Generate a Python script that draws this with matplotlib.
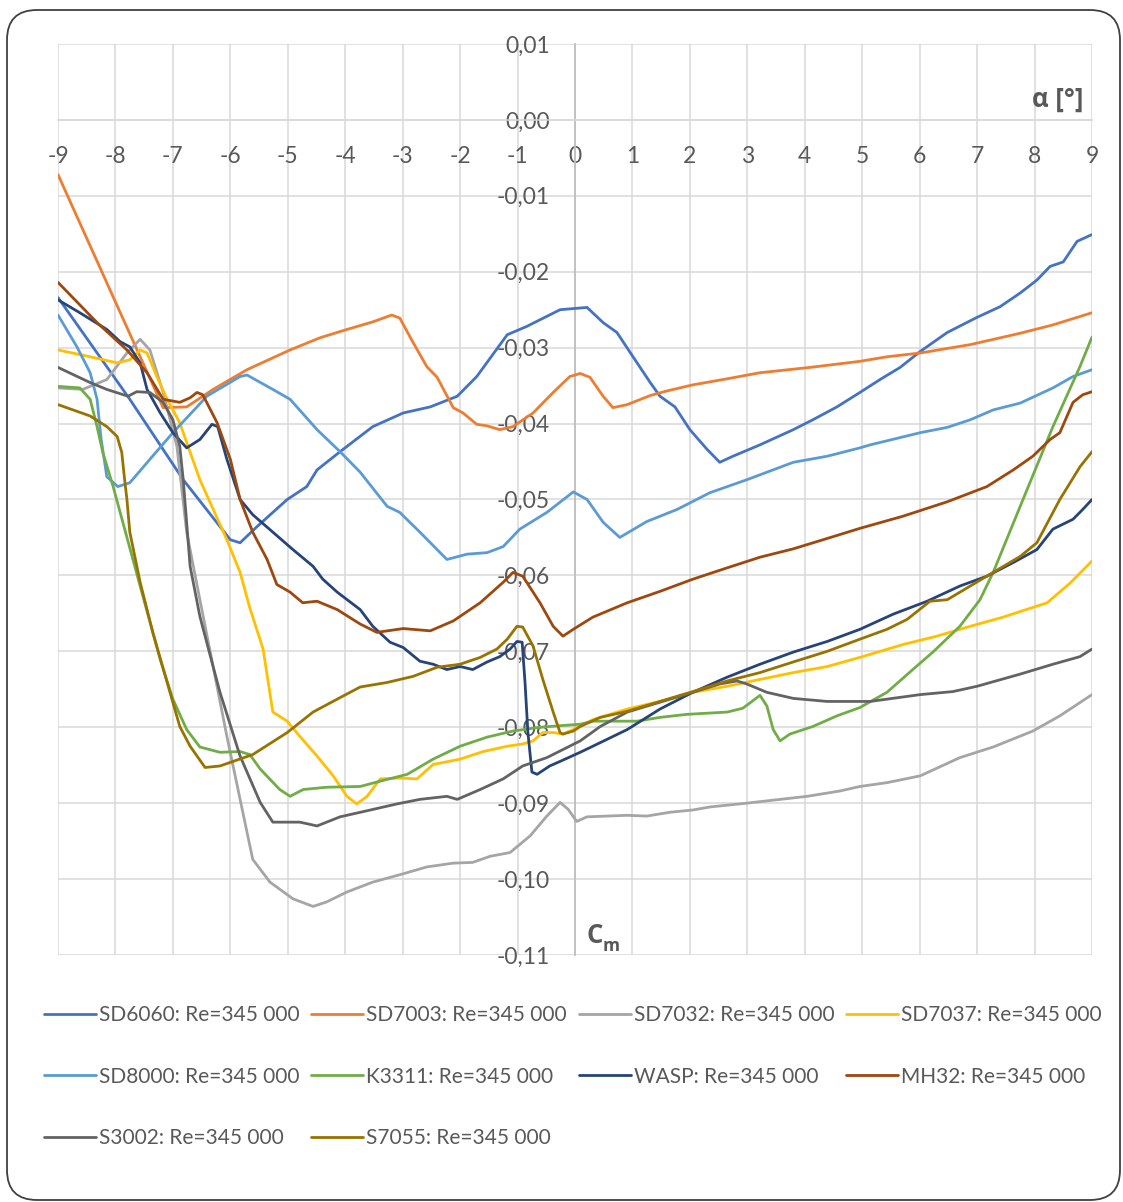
import matplotlib
matplotlib.use("Agg")
import matplotlib.pyplot as plt
from matplotlib.patches import FancyBboxPatch
from matplotlib.transforms import IdentityTransform
from matplotlib.ticker import FuncFormatter, MultipleLocator

plt.rcParams['font.family'] = ['Lato', 'DejaVu Sans']

# Moment coefficient Cm versus angle of attack, Re = 345 000
sd6060_a = [-9, -7.75, -6.82, -6.0, -5.83, -5.54, -5.01, -4.67, -4.49, -4.09, -3.52, -2.99, -2.52, -2.05, -1.71,
            -1.18, -0.84, -0.26, 0.21, 0.49, 0.73, 1.01, 1.31, 1.48, 1.74, 2.0, 2.30, 2.52, 2.75, 3.22, 3.80, 4.14,
            4.56, 4.96, 5.31, 5.66, 6.01, 6.48, 7.0, 7.40, 7.75, 8.04, 8.27, 8.50, 8.74, 9.0]
sd6060_cm = [-0.0234, -0.0368, -0.0474, -0.0553, -0.0557, -0.0536, -0.0500, -0.0483, -0.0461, -0.0437, -0.0404,
             -0.0386, -0.0378, -0.0364, -0.0338, -0.0283, -0.0272, -0.0250, -0.0247, -0.0267, -0.0280, -0.0312,
             -0.0346, -0.0364, -0.0378, -0.0408, -0.0434, -0.0451, -0.0443, -0.0428, -0.0408, -0.0395, -0.0378,
             -0.0359, -0.0342, -0.0326, -0.0305, -0.0280, -0.0260, -0.0246, -0.0228, -0.0211, -0.0193, -0.0187,
             -0.0160, -0.0151]

sd7003_a = [-9, -7.17, -6.76, -6.30, -5.71, -4.96, -4.44, -3.97, -3.52, -3.19, -3.05, -2.82, -2.58, -2.40, -2.12,
            -1.95, -1.71, -1.53, -1.31, -1.08, -0.73, -0.38, -0.09, 0.09, 0.26, 0.49, 0.66, 0.91, 1.31, 1.60, 2.05,
            2.65, 3.22, 4.09, 4.96, 5.43, 6.01, 6.88, 7.75, 8.32, 9.0]
sd7003_cm = [-0.0072, -0.0379, -0.0378, -0.0355, -0.0329, -0.0303, -0.0287, -0.0276, -0.0266, -0.0257, -0.0261,
             -0.0293, -0.0325, -0.0339, -0.0379, -0.0386, -0.0401, -0.0403, -0.0408, -0.0404, -0.0386, -0.0359,
             -0.0338, -0.0334, -0.0339, -0.0364, -0.0379, -0.0375, -0.0363, -0.0357, -0.0349, -0.0341, -0.0333,
             -0.0326, -0.0318, -0.0312, -0.0307, -0.0296, -0.0281, -0.0270, -0.0254]

sd7032_a = [-9, -8.57, -8.15, -7.80, -7.57, -7.40, -7.17, -6.93, -6.76, -6.53, -6.30, -6.06, -5.83, -5.61, -5.31,
            -4.91, -4.56, -4.32, -3.97, -3.52, -2.99, -2.58, -2.12, -1.78, -1.48, -1.13, -0.78, -0.49, -0.26, -0.12,
            0.03, 0.21, 0.91, 1.25, 1.65, 2.05, 2.35, 2.99, 3.34, 4.04, 4.61, 4.96, 5.43, 6.01, 6.70, 7.28, 7.97,
            8.44, 9.0]
sd7032_cm = [-0.0353, -0.0355, -0.0342, -0.0307, -0.0289, -0.0303, -0.0359, -0.0430, -0.0543, -0.0632, -0.0720,
             -0.0812, -0.0895, -0.0974, -0.1004, -0.1026, -0.1036, -0.1030, -0.1017, -0.1004, -0.0993, -0.0984,
             -0.0979, -0.0978, -0.0970, -0.0965, -0.0943, -0.0917, -0.0899, -0.0908, -0.0924, -0.0918, -0.0916,
             -0.0917, -0.0912, -0.0909, -0.0905, -0.0900, -0.0897, -0.0891, -0.0884, -0.0878, -0.0873, -0.0864,
             -0.0840, -0.0826, -0.0805, -0.0785, -0.0757]

sd7037_a = [-9, -8.44, -7.97, -7.75, -7.57, -7.45, -7.28, -7.10, -6.88, -6.53, -6.06, -5.83, -5.66, -5.43, -5.26,
            -5.01, -4.79, -4.49, -4.21, -3.97, -3.80, -3.62, -3.39, -3.05, -2.75, -2.47, -2.0, -1.60, -1.18, -0.91,
            -0.73, -0.56, -0.38, -0.21, -0.03, 0.31, 0.91, 1.48, 2.05, 2.65, 3.22, 3.80, 4.39, 4.96, 5.71, 6.30,
            6.88, 7.45, 8.22, 8.62, 9.0]
sd7037_cm = [-0.0303, -0.0312, -0.0320, -0.0316, -0.0303, -0.0307, -0.0338, -0.0368, -0.0399, -0.0474, -0.0553,
             -0.0596, -0.0643, -0.0697, -0.0780, -0.0792, -0.0812, -0.0838, -0.0864, -0.0891, -0.0901, -0.0891,
             -0.0868, -0.0867, -0.0868, -0.0849, -0.0842, -0.0832, -0.0825, -0.0822, -0.0818, -0.0807, -0.0807,
             -0.0809, -0.0803, -0.0790, -0.0776, -0.0766, -0.0754, -0.0746, -0.0737, -0.0728, -0.0720, -0.0708,
             -0.0691, -0.0680, -0.0667, -0.0655, -0.0636, -0.0610, -0.0581]

sd8000_a = [-9, -8.67, -8.44, -8.32, -8.25, -8.15, -7.96, -7.75, -7.40, -7.0, -6.58, -6.41, -5.83, -5.71, -5.26,
            -4.96, -4.49, -4.09, -3.74, -3.27, -3.05, -2.70, -2.23, -1.88, -1.53, -1.25, -0.96, -0.49, -0.03, 0.21,
            0.49, 0.78, 1.25, 1.78, 2.35, 2.99, 3.80, 4.39, 4.96, 5.14, 6.01, 6.48, 6.88, 7.28, 7.75, 8.32, 8.67,
            9.0]
sd8000_cm = [-0.0257, -0.0299, -0.0333, -0.0368, -0.0420, -0.0470, -0.0483, -0.0478, -0.0447, -0.0412, -0.0378,
             -0.0364, -0.0338, -0.0336, -0.0355, -0.0368, -0.0408, -0.0437, -0.0464, -0.0509, -0.0517, -0.0543,
             -0.0579, -0.0572, -0.0570, -0.0562, -0.0539, -0.0517, -0.0490, -0.0500, -0.0530, -0.0550, -0.0529,
             -0.0513, -0.0491, -0.0474, -0.0451, -0.0443, -0.0432, -0.0428, -0.0412, -0.0405, -0.0395, -0.0382,
             -0.0373, -0.0353, -0.0338, -0.0329]

k3311_a = [-9, -8.62, -8.44, -8.32, -8.22, -8.04, -7.57, -7.22, -7.0, -6.76, -6.53, -6.18, -5.83, -5.66, -5.48,
           -5.14, -4.96, -4.73, -4.32, -3.74, -3.39, -2.92, -2.47, -2.0, -1.53, -1.08, -0.61, 0.09, 0.31, 0.78,
           1.08, 1.48, 1.95, 2.65, 2.92, 3.08, 3.22, 3.34, 3.45, 3.57, 3.74, 4.14, 4.56, 4.96, 5.43, 5.88, 6.23,
           6.70, 7.05, 7.28, 7.75, 8.32, 8.79, 9.0]
k3311_cm = [-0.0351, -0.0353, -0.0368, -0.0404, -0.0438, -0.0483, -0.0614, -0.0711, -0.0763, -0.0803, -0.0826,
            -0.0833, -0.0832, -0.0836, -0.0855, -0.0882, -0.0891, -0.0882, -0.0879, -0.0878, -0.0871, -0.0862,
            -0.0842, -0.0825, -0.0813, -0.0805, -0.0800, -0.0796, -0.0792, -0.0792, -0.0792, -0.0787, -0.0783,
            -0.0780, -0.0775, -0.0766, -0.0758, -0.0772, -0.0803, -0.0818, -0.0809, -0.0799, -0.0785, -0.0774,
            -0.0754, -0.0724, -0.0701, -0.0667, -0.0632, -0.0596, -0.0509, -0.0404, -0.0325, -0.0286]

wasp_a = [-9, -8.62, -8.15, -7.92, -7.75, -7.57, -7.45, -7.22, -7.0, -6.76, -6.53, -6.32, -6.22, -6.06, -5.83,
          -5.61, -5.26, -4.91, -4.56, -4.39, -4.14, -3.74, -3.52, -3.22, -2.99, -2.70, -2.47, -2.23, -2.0, -1.78,
          -1.53, -1.31, -1.13, -1.01, -0.92, -0.87, -0.82, -0.75, -0.66, -0.44, -0.26, 0.09, 0.31, 0.91, 1.48,
          2.05, 2.65, 3.22, 3.80, 4.39, 4.96, 5.54, 6.13, 6.70, 7.17, 7.63, 8.04, 8.32, 8.67, 8.84, 9.0]
wasp_cm = [-0.0237, -0.0254, -0.0276, -0.0292, -0.0299, -0.0320, -0.0355, -0.0386, -0.0412, -0.0432, -0.0421,
           -0.0401, -0.0404, -0.0447, -0.0500, -0.0520, -0.0543, -0.0566, -0.0588, -0.0605, -0.0622, -0.0645,
           -0.0667, -0.0688, -0.0695, -0.0713, -0.0717, -0.0724, -0.0720, -0.0724, -0.0714, -0.0707, -0.0697,
           -0.0687, -0.0688, -0.0741, -0.0807, -0.0859, -0.0862, -0.0851, -0.0845, -0.0833, -0.0825, -0.0803,
           -0.0776, -0.0754, -0.0734, -0.0717, -0.0701, -0.0687, -0.0671, -0.0651, -0.0634, -0.0614, -0.0601,
           -0.0583, -0.0566, -0.0539, -0.0526, -0.0513, -0.0500]

mh32_a = [-9, -8.32, -7.80, -7.45, -7.17, -6.88, -6.70, -6.58, -6.48, -6.23, -6.0, -5.83, -5.61, -5.36, -5.19,
          -4.96, -4.74, -4.49, -4.14, -3.74, -3.45, -2.99, -2.52, -2.12, -1.65, -1.25, -1.08, -0.91, -0.61, -0.38,
          -0.21, -0.03, 0.31, 0.91, 1.48, 2.05, 2.65, 3.22, 3.80, 4.49, 4.96, 5.71, 6.48, 7.17, 7.63, 7.97, 8.27,
          8.44, 8.67, 8.84, 9.0]
mh32_cm = [-0.0214, -0.0267, -0.0303, -0.0333, -0.0368, -0.0372, -0.0366, -0.0359, -0.0362, -0.0399, -0.0447,
           -0.0500, -0.0543, -0.0579, -0.0612, -0.0622, -0.0636, -0.0634, -0.0645, -0.0664, -0.0675, -0.0670,
           -0.0673, -0.0660, -0.0636, -0.0609, -0.0596, -0.0601, -0.0636, -0.0667, -0.0680, -0.0671, -0.0655,
           -0.0636, -0.0621, -0.0605, -0.0590, -0.0576, -0.0565, -0.0549, -0.0538, -0.0522, -0.0503, -0.0483,
           -0.0461, -0.0443, -0.0421, -0.0412, -0.0372, -0.0362, -0.0358]

s3002_a = [-9, -8.44, -8.15, -7.78, -7.63, -7.40, -7.17, -7.0, -6.88, -6.82, -6.70, -6.53, -6.30, -6.18, -5.83,
           -5.48, -5.26, -4.79, -4.49, -4.09, -3.62, -3.10, -2.70, -2.23, -2.05, -1.65, -1.25, -0.91, -0.49, 0.09,
           0.44, 0.91, 1.48, 2.05, 2.52, 2.82, 2.99, 3.34, 3.80, 4.39, 4.96, 5.14, 6.01, 6.58, 7.0, 7.75, 8.32,
           8.79, 9.0]
s3002_cm = [-0.0326, -0.0346, -0.0355, -0.0364, -0.0358, -0.0359, -0.0372, -0.0395, -0.0430, -0.0474, -0.0588,
            -0.0654, -0.0720, -0.0754, -0.0838, -0.0899, -0.0925, -0.0925, -0.0930, -0.0918, -0.0910, -0.0901,
            -0.0895, -0.0891, -0.0895, -0.0882, -0.0868, -0.0851, -0.0840, -0.0818, -0.0799, -0.0780, -0.0767,
            -0.0754, -0.0743, -0.0739, -0.0743, -0.0754, -0.0762, -0.0766, -0.0766, -0.0766, -0.0757, -0.0753,
            -0.0746, -0.0730, -0.0717, -0.0707, -0.0697]

s7055_a = [-9, -8.44, -8.15, -7.97, -7.89, -7.84, -7.80, -7.75, -7.57, -7.35, -7.10, -6.88, -6.70, -6.44, -6.18,
           -5.61, -5.01, -4.56, -4.14, -3.74, -3.27, -2.82, -2.40, -2.0, -1.65, -1.36, -1.18, -1.01, -0.91, -0.73,
           -0.56, -0.38, -0.26, -0.21, -0.03, 0.09, 0.44, 0.91, 1.48, 2.05, 2.65, 3.22, 3.80, 4.39, 4.96, 5.43,
           5.78, 6.18, 6.48, 6.88, 7.28, 7.75, 8.04, 8.44, 8.79, 9.0]
s7055_cm = [-0.0375, -0.0390, -0.0404, -0.0417, -0.0438, -0.0474, -0.0500, -0.0543, -0.0609, -0.0675, -0.0741,
            -0.0799, -0.0825, -0.0853, -0.0851, -0.0836, -0.0807, -0.0780, -0.0763, -0.0747, -0.0741, -0.0733,
            -0.0721, -0.0717, -0.0708, -0.0697, -0.0684, -0.0667, -0.0668, -0.0693, -0.0737, -0.0780, -0.0807,
            -0.0809, -0.0805, -0.0799, -0.0787, -0.0779, -0.0766, -0.0753, -0.0739, -0.0728, -0.0714, -0.0700,
            -0.0684, -0.0671, -0.0658, -0.0634, -0.0632, -0.0614, -0.0596, -0.0575, -0.0557, -0.0500, -0.0457,
            -0.0437]

series = [
    ("SD6060: Re=345 000", sd6060_a, sd6060_cm, "#4472C4"),
    ("SD7003: Re=345 000", sd7003_a, sd7003_cm, "#ED7D31"),
    ("SD7032: Re=345 000", sd7032_a, sd7032_cm, "#A5A5A5"),
    ("SD7037: Re=345 000", sd7037_a, sd7037_cm, "#FFC000"),
    ("SD8000: Re=345 000", sd8000_a, sd8000_cm, "#5B9BD5"),
    ("K3311: Re=345 000", k3311_a, k3311_cm, "#70AD47"),
    ("WASP: Re=345 000", wasp_a, wasp_cm, "#264478"),
    ("MH32: Re=345 000", mh32_a, mh32_cm, "#9E480E"),
    ("S3002: Re=345 000", s3002_a, s3002_cm, "#636363"),
    ("S7055: Re=345 000", s7055_a, s7055_cm, "#997300"),
]

TXT = "#595959"
TITLE_FONT = ["Open Sans", "DejaVu Sans"]
W, H = 1123, 1202
fig = plt.figure(figsize=(W / 100, H / 100), dpi=100)
fig.patch.set_facecolor("white")

# rounded chart-area frame
frame = FancyBboxPatch((7, 2), 1113, 1190, boxstyle="round,pad=0,rounding_size=30",
                       transform=IdentityTransform(), facecolor="none", edgecolor="#404040", linewidth=1.3)
fig.patches.append(frame)

ax = fig.add_axes([58 / W, 1 - 955 / H, (1092 - 58) / W, (955 - 44) / H])
ax.set_xlim(-9, 9)
ax.set_ylim(-0.11, 0.01)
ax.xaxis.set_major_locator(MultipleLocator(1))
ax.yaxis.set_major_locator(MultipleLocator(0.01))
ax.grid(True, color="#D9D9D9", linewidth=1.1, zorder=0)
ax.set_axisbelow(True)

for name in ("top", "right"):
    ax.spines[name].set_visible(False)
ax.spines["left"].set_position(("data", 0))
ax.spines["bottom"].set_position(("data", 0))
ax.spines["left"].set_color("#BFBFBF")
ax.spines["bottom"].set_color("#D9D9D9")
ax.spines["left"].set_linewidth(1.3)
ax.spines["bottom"].set_linewidth(1.1)


def fmt_x(v, pos):
    return "0" if abs(v) < 1e-9 else f"{v:.0f}"


def fmt_y(v, pos):
    s = f"{v:.2f}".replace(".", ",")
    return "0,00" if s == "-0,00" else s


ax.xaxis.set_major_formatter(FuncFormatter(fmt_x))
ax.yaxis.set_major_formatter(FuncFormatter(fmt_y))
ax.tick_params(axis="x", length=0, pad=19, labelsize=16.5, labelcolor=TXT)
ax.tick_params(axis="y", length=0, pad=18, labelsize=16.5, labelcolor=TXT)

handles = {}
for label, a, cm, color in series:
    (ln,) = ax.plot(a, cm, color=color, linewidth=2.0, solid_joinstyle="round",
                    solid_capstyle="round", label=label, zorder=3)
    handles[label] = ln

# axis titles
ax.annotate("α [°]", xy=(9, 0), xytext=(-6, 5), textcoords="offset points", ha="right", va="bottom",
            fontsize=18.5, fontweight="bold", color=TXT, family=TITLE_FONT)
ax.annotate("C", xy=(0, -0.11), xytext=(8, 4), textcoords="offset points", ha="left", va="bottom",
            fontsize=18.5, fontweight="bold", color=TXT, family=TITLE_FONT)
ax.annotate("m", xy=(0, -0.11), xytext=(20, 0), textcoords="offset points", ha="left", va="bottom",
            fontsize=12.5, fontweight="bold", color=TXT, family=TITLE_FONT)

order = ["SD6060: Re=345 000", "SD8000: Re=345 000", "S3002: Re=345 000",
         "SD7003: Re=345 000", "K3311: Re=345 000", "S7055: Re=345 000",
         "SD7032: Re=345 000", "WASP: Re=345 000",
         "SD7037: Re=345 000", "MH32: Re=345 000"]
leg = fig.legend([handles[k] for k in order], order, ncol=4, loc="upper left",
                 bbox_to_anchor=(44 / W, 1 - 1005 / H), frameon=False, fontsize=15,
                 handlelength=2.5, handletextpad=0.15, columnspacing=0.55, labelspacing=2.0,
                 borderpad=0, borderaxespad=0)
for t in leg.get_texts():
    t.set_color(TXT)

fig.savefig("out.png", dpi=100, facecolor="white")
